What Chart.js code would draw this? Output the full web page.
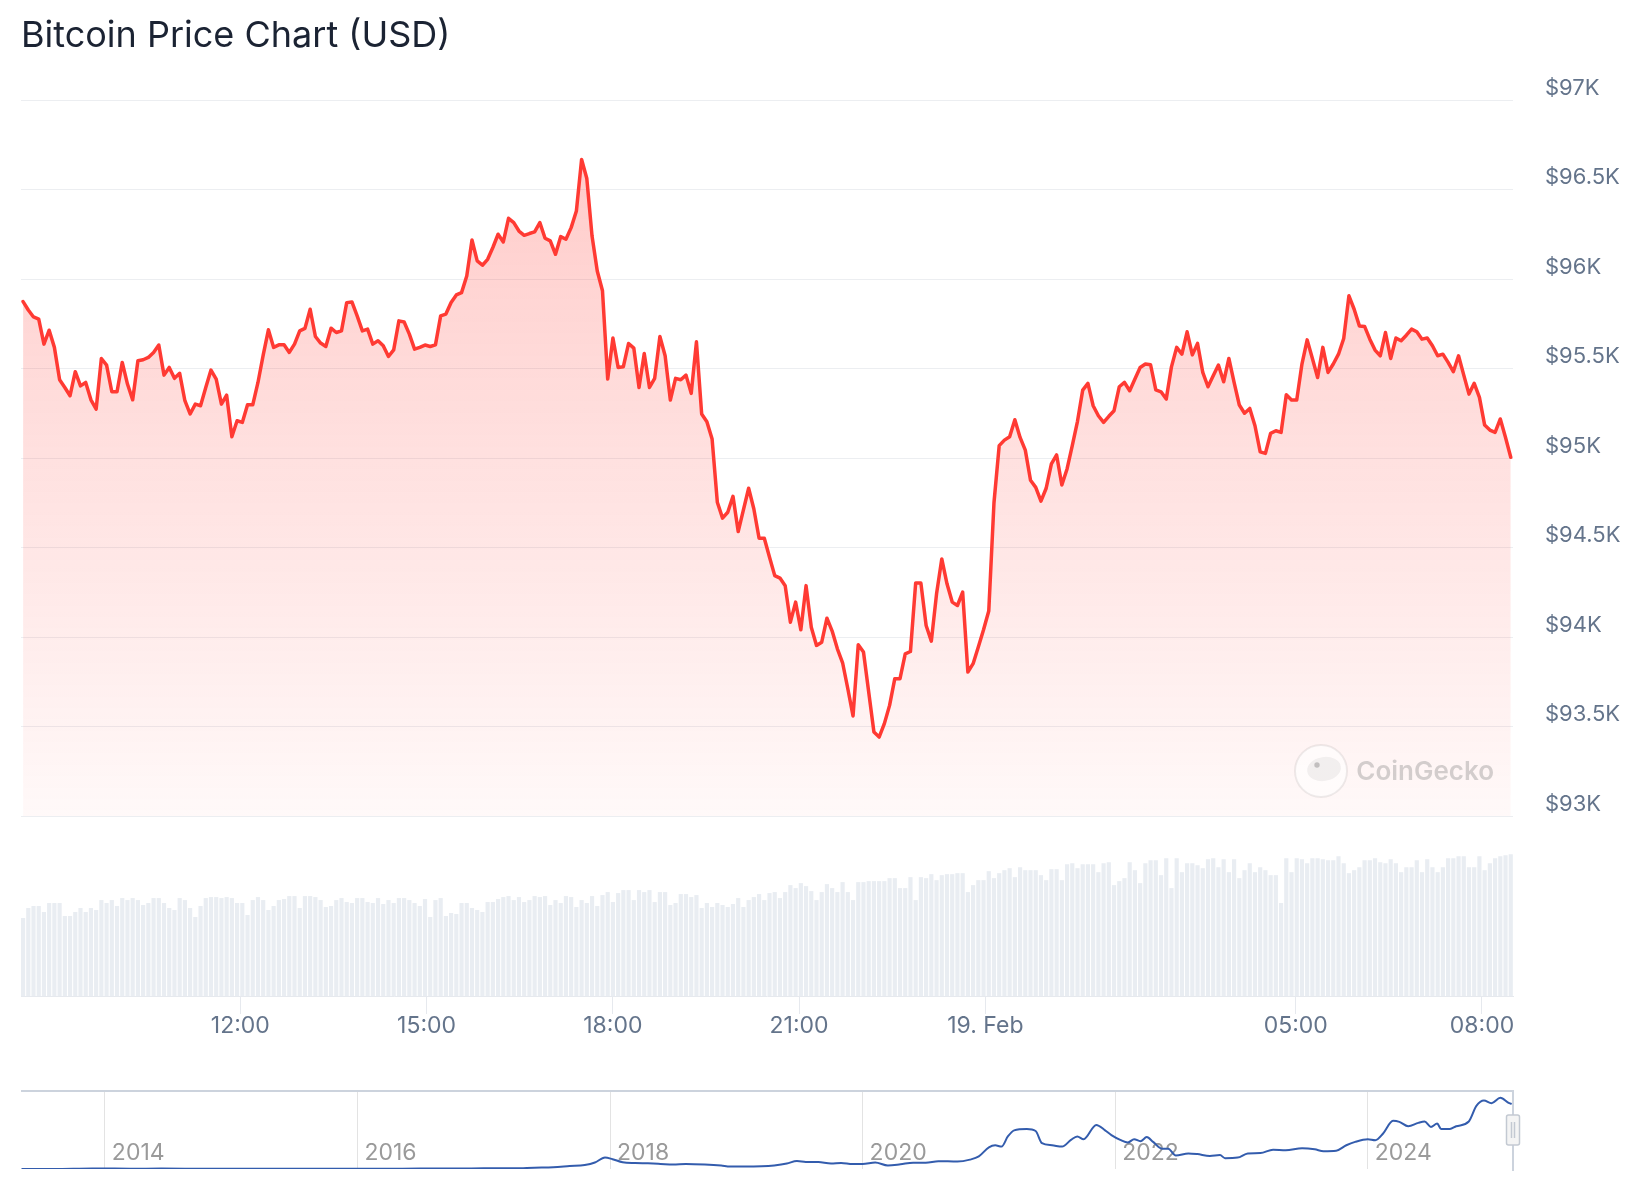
<!DOCTYPE html>
<html>
<head>
<meta charset="utf-8">
<title>Bitcoin Price Chart (USD)</title>
<script src="https://cdn.jsdelivr.net/npm/chart.js@4.4.1/dist/chart.umd.min.js"></script>
<style>
  body { margin: 0; background: #fff; }
  #wrap { position: relative; width: 1644px; height: 1200px; overflow: hidden; font-family: Inter, 'Noto Sans', sans-serif; }
  h1 { position: absolute; left: 21px; top: 13px; margin: 0; font: 400 36px/42px Inter, sans-serif; color: #1b2333; z-index: 2; }
  canvas { position: absolute; left: 0; }
  #price { top: 0; }
  #volume { top: 820px; }
  #nav { top: 1080px; }
</style>
</head>
<body>
<div id="wrap">
  <h1>Bitcoin Price Chart (USD)</h1>
  <canvas id="price" width="1644" height="832"></canvas>
  <canvas id="volume" width="1644" height="240"></canvas>
  <canvas id="nav" width="1644" height="120"></canvas>
</div>
<script>
// BTC price, one value every ~5 min from 18 Feb 08:30
const PRICE_USD = [
  95874, 95827, 95788, 95776, 95636, 95714, 95618, 95437, 95394, 95348,
  95482, 95403, 95422, 95325, 95273, 95556, 95519, 95370, 95370, 95534,
  95413, 95325, 95543, 95549, 95562, 95590, 95631, 95463, 95506, 95445,
  95473, 95320, 95246, 95301, 95292, 95394, 95491, 95441, 95301, 95351,
  95119, 95208, 95199, 95297, 95297, 95422, 95575, 95716, 95618, 95632,
  95632, 95590, 95636, 95710, 95724, 95831, 95679, 95642, 95623, 95725,
  95701, 95710, 95868, 95872, 95794, 95710, 95720, 95636, 95655, 95627,
  95567, 95604, 95766, 95760, 95692, 95608, 95618, 95631, 95623, 95632,
  95794, 95804, 95869, 95911, 95924, 96017, 96218, 96101, 96077, 96110,
  96176, 96250, 96207, 96339, 96315, 96268, 96244, 96254, 96263, 96315,
  96228, 96213, 96138, 96237, 96222, 96287, 96380, 96668, 96561, 96240,
  96045, 95934, 95441, 95670, 95506, 95510, 95640, 95614, 95394, 95584,
  95394, 95445, 95679, 95571, 95324, 95445, 95437, 95463, 95361, 95649,
  95246, 95203, 95106, 94753, 94664, 94697, 94786, 94589, 94710, 94831,
  94715, 94552, 94552, 94446, 94343, 94329, 94287, 94083, 94195, 94040,
  94287, 94055, 93953, 93971, 94105, 94033, 93934, 93856, 93711, 93559,
  93957, 93916, 93693, 93469, 93441, 93516, 93618, 93767, 93767, 93906,
  93919, 94302, 94301, 94064, 93977, 94241, 94436, 94297, 94195, 94176,
  94251, 93804, 93851, 93944, 94040, 94145, 94750, 95069, 95100, 95119,
  95214, 95115, 95044, 94876, 94836, 94759, 94831, 94967, 95017, 94849,
  94939, 95069, 95205, 95379, 95417, 95292, 95236, 95199, 95233, 95264,
  95398, 95422, 95376, 95441, 95506, 95525, 95521, 95381, 95370, 95329,
  95509, 95618, 95580, 95705, 95576, 95640, 95478, 95398, 95459, 95519,
  95426, 95556, 95422, 95296, 95250, 95277, 95180, 95034, 95026, 95138,
  95152, 95143, 95353, 95324, 95324, 95525, 95660, 95556, 95450, 95618,
  95478, 95525, 95580, 95668, 95906, 95831, 95738, 95735, 95664, 95603,
  95571, 95701, 95556, 95670, 95655, 95686, 95720, 95705, 95664, 95670,
  95627, 95571, 95580, 95534, 95482, 95571, 95463, 95357, 95417, 95339,
  95184, 95156, 95143, 95218, 95115, 95004
];

// 24h volume (billion USD) for the same candles
const VOLUME_B = [
  23.5, 26.5, 27.1, 27.1, 25.3, 28.0, 28.0, 28.0, 24.1, 24.1,
  25.3, 26.5, 25.3, 26.5, 25.9, 28.9, 28.0, 28.9, 27.1, 29.5,
  28.9, 29.5, 28.9, 27.4, 28.0, 29.5, 29.5, 28.0, 26.5, 25.9,
  29.5, 28.9, 26.5, 23.8, 27.1, 29.5, 29.8, 29.8, 29.5, 29.8,
  29.5, 28.0, 28.0, 24.4, 28.9, 29.8, 28.9, 25.9, 27.1, 28.9,
  29.2, 30.1, 30.1, 26.5, 30.1, 30.1, 29.8, 28.9, 26.8, 27.1,
  28.9, 29.5, 28.3, 28.0, 29.5, 29.5, 28.3, 28.0, 29.5, 27.7,
  28.9, 28.0, 29.5, 29.5, 28.9, 28.0, 27.1, 29.2, 23.8, 28.9,
  29.5, 24.1, 25.0, 24.7, 28.0, 28.0, 26.5, 25.9, 25.3, 28.3,
  28.3, 29.2, 29.8, 30.1, 28.9, 29.8, 28.3, 28.9, 30.1, 29.8,
  30.1, 27.4, 28.9, 28.0, 30.1, 29.8, 26.8, 28.9, 28.0, 30.1,
  27.1, 30.4, 31.3, 28.3, 31.0, 31.9, 31.9, 28.9, 31.9, 31.3,
  31.9, 28.3, 31.3, 31.3, 27.4, 28.0, 30.7, 30.7, 29.8, 30.4,
  26.5, 28.0, 26.8, 28.0, 27.4, 26.8, 27.7, 29.5, 26.8, 28.9,
  29.8, 30.7, 28.9, 31.0, 31.3, 29.5, 31.3, 33.4, 32.5, 34.0,
  33.1, 31.6, 28.9, 31.3, 33.7, 32.5, 31.3, 34.3, 31.3, 28.9,
  34.3, 34.3, 34.6, 34.6, 34.6, 34.6, 35.5, 35.5, 32.5, 32.5,
  35.8, 28.9, 35.8, 35.5, 36.7, 34.9, 36.4, 36.7, 36.7, 37.0,
  37.0, 31.3, 33.4, 34.9, 34.9, 37.6, 35.5, 37.0, 37.9, 38.5,
  35.8, 38.8, 37.9, 37.9, 37.9, 36.4, 34.9, 38.2, 38.2, 34.9,
  39.7, 40.0, 38.5, 39.7, 39.7, 39.7, 37.3, 40.0, 40.3, 33.4,
  34.6, 35.5, 40.3, 37.9, 34.0, 40.0, 40.9, 40.9, 36.4, 41.5,
  32.5, 41.5, 37.3, 40.0, 40.0, 39.4, 38.5, 41.2, 41.5, 38.8,
  41.2, 37.3, 41.2, 35.5, 37.9, 40.0, 37.3, 38.8, 37.9, 36.4,
  36.4, 28.0, 41.5, 37.3, 41.5, 41.2, 40.0, 41.5, 41.5, 41.2,
  40.9, 40.9, 42.1, 40.0, 37.0, 37.9, 38.8, 40.9, 40.9, 41.5,
  40.3, 40.0, 41.2, 40.0, 37.3, 38.8, 38.8, 40.9, 37.3, 41.2,
  38.8, 37.3, 38.8, 41.5, 41.5, 42.1, 42.1, 38.8, 38.8, 42.1,
  37.9, 40.0, 41.5, 42.1, 42.4, 42.7
];

// time axis in minutes after 18 Feb 00:00
const START_MIN = 510;      // 08:30
const STEP_MIN = 5.045;
const X_MIN = 508;
const X_MAX = 1950;
const TIME_TICKS = [720, 900, 1080, 1260, 1440, 1740, 1920];
const TIME_LABELS = ['12:00', '15:00', '18:00', '21:00', '19. Feb', '05:00', '08:00'];

const PRICE_MIN = 93000;
const PRICE_MAX = 97000;
const PRICE_STEP = 500;
const VOLUME_MAX = 50;

// long-range navigator: year, price in thousand USD
const NAV_YEARS = [
  2013.34, 2013.6, 2013.9, 2014.0, 2014.2, 2014.45, 2014.75, 2015.0, 2015.5, 2015.85,
  2016.2, 2016.5, 2016.8, 2017.0, 2017.25, 2017.4, 2017.55, 2017.68, 2017.8, 2017.88,
  2017.96, 2018.02, 2018.1, 2018.2, 2018.3, 2018.4, 2018.5, 2018.6, 2018.75, 2018.88,
  2018.95, 2019.05, 2019.2, 2019.3, 2019.4, 2019.48, 2019.55, 2019.65, 2019.75, 2019.83,
  2019.92, 2020.0, 2020.1, 2020.2, 2020.3, 2020.4, 2020.5, 2020.6, 2020.75, 2020.85,
  2020.92, 2021.0, 2021.05, 2021.1, 2021.15, 2021.2, 2021.3, 2021.37, 2021.42, 2021.5,
  2021.58, 2021.65, 2021.7, 2021.75, 2021.85, 2021.92, 2021.97, 2022.04, 2022.1, 2022.15,
  2022.2, 2022.25, 2022.3, 2022.37, 2022.42, 2022.48, 2022.58, 2022.65, 2022.75, 2022.83,
  2022.87, 2022.97, 2023.05, 2023.15, 2023.25, 2023.35, 2023.48, 2023.58, 2023.65, 2023.75,
  2023.83, 2023.9, 2024.0, 2024.06, 2024.12, 2024.2, 2024.25, 2024.32, 2024.4, 2024.45,
  2024.5, 2024.55, 2024.58, 2024.65, 2024.7, 2024.8, 2024.86, 2024.92, 2024.98, 2025.05,
  2025.12, 2025.14
];
const NAV_PRICE_K = [
  0.1, 0.1, 0.9, 0.8, 0.5, 0.6, 0.4, 0.3, 0.25, 0.4,
  0.42, 0.65, 0.7, 0.95, 1.1, 2.0, 2.6, 4.3, 5.8, 9.5,
  17, 14.5, 10, 8.8, 8.3, 7.5, 6.6, 7.3, 6.5, 5.0,
  3.6, 3.6, 4.0, 5.3, 8.0, 11.8, 10.5, 10.2, 8.2, 9.0,
  7.2, 7.2, 9.6, 5.3, 7.0, 9.3, 9.2, 11.5, 11.0, 13.8,
  18.5, 32, 35, 33, 48, 57, 59, 56, 38, 35,
  33, 43, 48, 44, 65, 57, 50, 43, 39, 44,
  41, 47, 40, 30, 30, 20, 23, 22, 19.3, 20.5,
  16, 16.8, 23, 23.5, 28.5, 27.5, 30.5, 29, 26.3, 27,
  35, 40, 44, 42.5, 52, 71, 69.5, 63, 68, 70,
  62, 67, 59, 59, 63, 70, 93, 101, 97, 105,
  97, 96
];
const NAV_MIN = 2013.336;
const NAV_MAX = 2025.15;
const NAV_TICKS = [2014, 2016, 2018, 2020, 2022, 2024];

Chart.defaults.font.family = "Inter, 'Noto Sans', sans-serif";

const times = PRICE_USD.map((_, i) => START_MIN + i * STEP_MIN);

// faint CoinGecko mark in the lower right of the price pane
const watermark = {
  id: 'watermark',
  afterDatasetsDraw(chart) {
    const { ctx, chartArea: a } = chart;
    const cx = a.right - 192, cy = a.bottom - 45;
    ctx.save();
    ctx.beginPath();
    ctx.arc(cx, cy, 26, 0, Math.PI * 2);
    ctx.fillStyle = 'rgba(255,255,255,0.6)';
    ctx.fill();
    ctx.lineWidth = 2;
    ctx.strokeStyle = 'rgba(0,0,0,0.07)';
    ctx.stroke();
    // head
    ctx.beginPath();
    ctx.ellipse(cx + 3, cy - 2, 17, 12, -0.15, 0, Math.PI * 2);
    ctx.fillStyle = 'rgba(0,0,0,0.05)';
    ctx.fill();
    ctx.beginPath();
    ctx.arc(cx - 4, cy - 6, 2.7, 0, Math.PI * 2);
    ctx.fillStyle = 'rgba(0,0,0,0.2)';
    ctx.fill();
    ctx.font = "600 26px Inter, sans-serif";
    ctx.fillStyle = 'rgba(120,120,120,0.33)';
    ctx.textAlign = 'right';
    ctx.textBaseline = 'alphabetic';
    ctx.fillText('CoinGecko', a.right - 19, a.bottom - 36);
    ctx.restore();
  }
};

new Chart(document.getElementById('price'), {
  type: 'line',
  data: {
    datasets: [{
      data: PRICE_USD.map((v, i) => ({ x: times[i], y: v })),
      borderColor: '#ff3a33',
      borderWidth: 3.5,
      borderJoinStyle: 'round',
      borderCapStyle: 'round',
      pointRadius: 0,
      tension: 0,
      fill: 'start',
      backgroundColor: (c) => {
        const a = c.chart.chartArea;
        if (!a) return 'rgba(255,58,51,0.15)';
        const g = c.chart.ctx.createLinearGradient(0, a.top, 0, a.bottom);
        g.addColorStop(0, 'rgba(255,58,51,0.28)');
        g.addColorStop(1, 'rgba(255,58,51,0.03)');
        return g;
      }
    }]
  },
  options: {
    responsive: false,
    animation: false,
    layout: { padding: { left: 21, top: 100, right: 0, bottom: 16 } },
    plugins: { legend: { display: false }, tooltip: { enabled: false } },
    scales: {
      x: { type: 'linear', min: X_MIN, max: X_MAX, display: false },
      y: {
        position: 'right',
        min: PRICE_MIN,
        max: PRICE_MAX,
        afterFit: (s) => { s.width = 131; },
        ticks: {
          stepSize: PRICE_STEP,
          callback: (v) => '$' + (v / 1000) + 'K',
          padding: 2,
          labelOffset: -12,
          color: '#64748b',
          font: { size: 22 }
        },
        grid: { color: '#eceef1', drawTicks: true, tickLength: 30, tickColor: 'rgba(0,0,0,0)' },
        border: { display: false }
      }
    }
  },
  plugins: [watermark]
});

new Chart(document.getElementById('volume'), {
  type: 'bar',
  data: {
    datasets: [{
      data: VOLUME_B.map((v, i) => ({ x: times[i], y: v })),
      backgroundColor: '#e9edf2',
      barPercentage: 0.8,
      categoryPercentage: 1
    }]
  },
  options: {
    responsive: false,
    animation: false,
    layout: { padding: { left: 21, top: 10, right: 131, bottom: 0 } },
    plugins: { legend: { display: false }, tooltip: { enabled: false } },
    scales: {
      x: {
        type: 'linear',
        min: X_MIN,
        max: X_MAX,
        offset: false,
        afterFit: (s) => { s.height = 64; },
        afterBuildTicks: (s) => { s.ticks = TIME_TICKS.map((v) => ({ value: v })); },
        ticks: {
          callback: (v, i) => TIME_LABELS[i],
          autoSkip: false,
          maxRotation: 0,
          minRotation: 0,
          padding: -2,
          color: '#64748b',
          font: { size: 23 }
        },
        grid: { offset: false, drawOnChartArea: false, tickLength: 18, color: '#e6e9ee' },
        border: { color: '#e6e9ee' }
      },
      y: { min: 0, max: VOLUME_MAX, display: false }
    }
  }
});

// navigator outline, right-hand handle and year labels
const navOutline = {
  id: 'navOutline',
  beforeDatasetsDraw(chart) {
    const { ctx, chartArea: a, scales: { x } } = chart;
    ctx.save();
    ctx.font = "23px Inter, sans-serif";
    ctx.fillStyle = '#9a9a9a';
    ctx.textAlign = 'left';
    ctx.textBaseline = 'middle';
    NAV_TICKS.forEach((v) => ctx.fillText(String(v), x.getPixelForValue(v) + 7, a.bottom - 16));
    ctx.restore();
  },
  afterDraw(chart) {
    const { ctx, chartArea: a } = chart;
    ctx.save();
    ctx.strokeStyle = '#ccd3dd';
    ctx.lineWidth = 2;
    ctx.beginPath();
    ctx.moveTo(a.left, a.top);
    ctx.lineTo(a.right, a.top);
    ctx.lineTo(a.right, a.bottom + 2);
    ctx.stroke();
    ctx.fillStyle = '#f4f4f4';
    ctx.strokeStyle = '#c3c9d2';
    ctx.lineWidth = 1.5;
    ctx.beginPath();
    ctx.roundRect(a.right - 6.5, a.top + 24, 13, 30, 2);
    ctx.fill();
    ctx.stroke();
    ctx.beginPath();
    ctx.moveTo(a.right - 1.5, a.top + 31);
    ctx.lineTo(a.right - 1.5, a.top + 47);
    ctx.moveTo(a.right + 1.5, a.top + 31);
    ctx.lineTo(a.right + 1.5, a.top + 47);
    ctx.stroke();
    ctx.restore();
  }
};

new Chart(document.getElementById('nav'), {
  type: 'line',
  data: {
    datasets: [{
      data: NAV_YEARS.map((y, i) => ({ x: y, y: NAV_PRICE_K[i] })),
      borderColor: '#335cad',
      borderWidth: 2,
      pointRadius: 0,
      cubicInterpolationMode: 'monotone',
      fill: false
    }]
  },
  options: {
    responsive: false,
    animation: false,
    layout: { padding: { left: 21, top: 11, right: 131, bottom: 0 } },
    plugins: { legend: { display: false }, tooltip: { enabled: false } },
    scales: {
      x: {
        type: 'linear',
        min: NAV_MIN,
        max: NAV_MAX,
        afterFit: (s) => { s.height = 31; },
        afterBuildTicks: (s) => { s.ticks = NAV_TICKS.map((v) => ({ value: v })); },
        ticks: { display: false },
        grid: { color: '#e3e3e3', drawTicks: false },
        border: { display: false }
      },
      y: { min: 0, max: 115, display: false }
    }
  },
  plugins: [navOutline]
});
</script>
</body>
</html>
